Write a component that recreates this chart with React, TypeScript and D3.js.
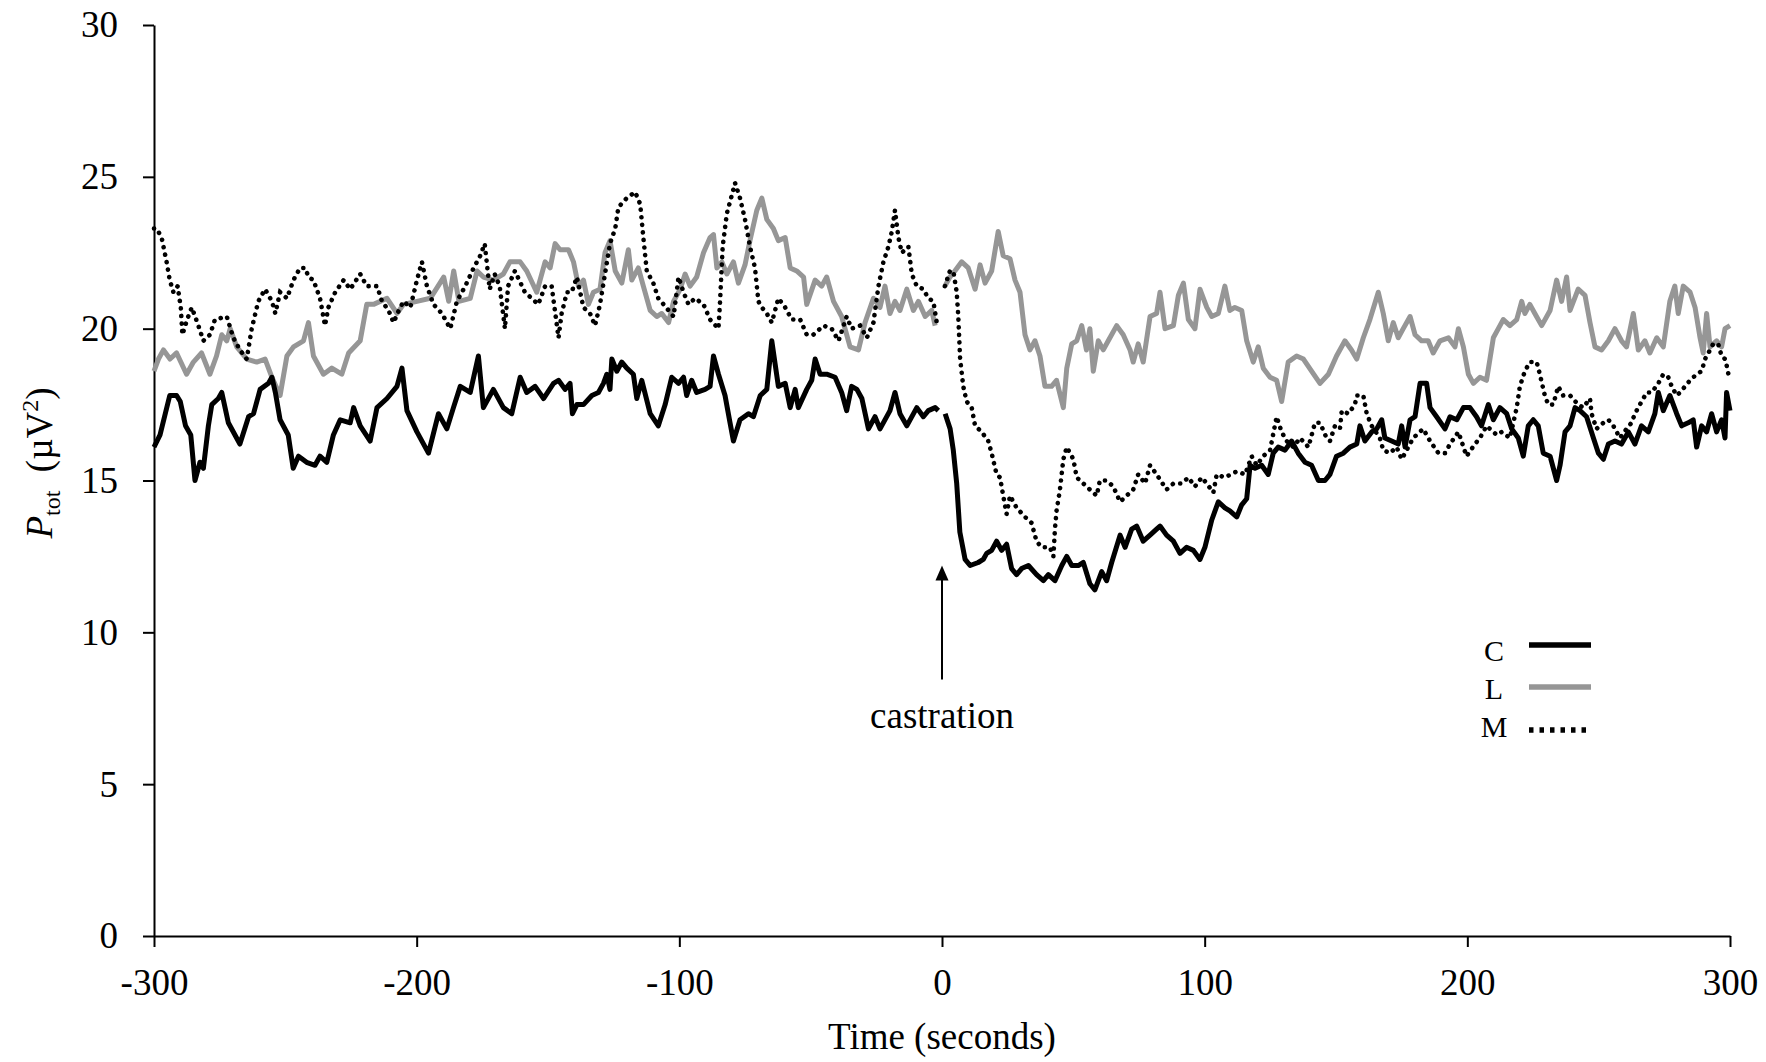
import React, { useEffect, useRef } from "react";
import * as d3 from "d3";

const W = 1766;
const H = 1062;

const xTicks = [-300, -200, -100, 0, 100, 200, 300];
const yTicks = [0, 5, 10, 15, 20, 25, 30];
const legendLabels = ["C", "L", "M"];

// [time (s), Ptot (µV²)], null = break at castration
const seriesC: [number, number | null][] = [
  [-300, 16.1], [-297.7, 16.5], [-294, 17.8], [-291.4, 17.8], [-290, 17.6], [-288, 16.8], [-286, 16.5],
  [-284.4, 15.0], [-282.5, 15.6], [-281.2, 15.4], [-279.3, 16.8], [-278, 17.5], [-275.5, 17.7], [-274.2, 17.9],
  [-271.7, 16.9], [-267.3, 16.2], [-264, 17.1], [-262.1, 17.2], [-259.6, 18.0], [-256.4, 18.2], [-255.1, 18.4],
  [-253.8, 17.9], [-252, 17.0], [-248.9, 16.5], [-247, 15.4], [-245, 15.8], [-241.9, 15.6], [-238.7, 15.5],
  [-236.8, 15.8], [-234.2, 15.6], [-231.7, 16.5], [-229.1, 17.0], [-225.3, 16.9], [-224, 17.4], [-221.5, 16.8],
  [-217.7, 16.3], [-215.1, 17.4], [-211.3, 17.7], [-207.5, 18.1], [-205.6, 18.7], [-203.7, 17.3], [-199.9, 16.6],
  [-195.5, 15.9], [-191.7, 17.2], [-188.5, 16.7], [-186, 17.4], [-183.4, 18.1], [-179.6, 17.9], [-176.5, 19.1],
  [-174.6, 17.4], [-170.8, 18.0], [-167, 17.4], [-163.8, 17.2], [-160.6, 18.4], [-158.1, 17.9], [-154.9, 18.1],
  [-151.7, 17.7], [-147.9, 18.2], [-146, 18.3], [-143.5, 18.0], [-141.6, 18.2], [-140.7, 17.2], [-139, 17.5],
  [-136.5, 17.5], [-133.3, 17.8], [-130.8, 17.9], [-128.9, 18.2], [-127.6, 18.5], [-126.4, 18.0], [-125.7, 19.0],
  [-123.8, 18.6], [-121.9, 18.9], [-120, 18.7], [-117.5, 18.5], [-116.2, 17.7], [-114.3, 18.3], [-111.1, 17.2],
  [-108, 16.8], [-105.4, 17.5], [-102.9, 18.4], [-100.3, 18.2], [-98.4, 18.4], [-97.2, 17.8], [-95.3, 18.3],
  [-93.4, 17.9], [-90.2, 18.0], [-88.3, 18.1], [-87, 19.1], [-85.1, 18.5], [-82.6, 17.8], [-80.7, 16.9],
  [-79.4, 16.3], [-76.9, 17.0], [-73.7, 17.2], [-71.8, 17.1], [-69.2, 17.8], [-66.7, 18.0], [-64.8, 19.6],
  [-62.3, 18.1], [-59.7, 18.2], [-57.8, 17.4], [-55.9, 18.0], [-54.7, 17.4], [-51.5, 18.0], [-49.6, 18.3],
  [-48.3, 19.0], [-46.4, 18.5], [-43.9, 18.5], [-40.7, 18.4], [-38.2, 17.9], [-36.3, 17.3], [-34.4, 18.1],
  [-32.4, 18.0], [-30.5, 17.7], [-28, 16.7], [-25.5, 17.1], [-23.6, 16.7], [-19.8, 17.3], [-17.9, 17.9],
  [-16, 17.2], [-13.4, 16.8], [-9.6, 17.4], [-7.1, 17.1], [-5.2, 17.3], [-2.6, 17.4], [-1.4, 17.3],
  [0, null],
  [1.2, 17.2], [3.1, 16.7], [4.3, 16.0], [5.6, 14.9], [6.8, 13.3], [8.8, 12.4], [10.7, 12.2], [13.8, 12.3],
  [15.7, 12.4], [17, 12.6], [18.9, 12.7], [20.8, 13.0], [22.7, 12.7], [24.6, 12.9], [26.5, 12.1], [28.4, 11.9],
  [30.3, 12.1], [32.9, 12.2], [36, 11.9], [38.6, 11.7], [40.5, 11.9], [43, 11.7], [45.6, 12.2], [47.5, 12.5],
  [49.4, 12.2], [51.9, 12.2], [53.8, 12.3], [56.3, 11.6], [58.2, 11.4], [60.8, 12.0], [62.7, 11.7], [64.6, 12.3],
  [67.8, 13.2], [69.7, 12.8], [72.2, 13.4], [74.1, 13.5], [76.6, 13.0], [79.2, 13.2], [81.7, 13.4], [83, 13.5],
  [85.5, 13.2], [88.1, 13.0], [90.6, 12.6], [93.1, 12.8], [95.7, 12.7], [98.2, 12.4], [100.1, 12.8], [102.7, 13.7],
  [105.2, 14.3], [107.7, 14.1], [109.6, 14.0], [112.2, 13.8], [114.1, 14.2], [116, 14.4], [117.3, 15.5],
  [119.2, 15.4], [121.7, 15.5], [124.2, 15.2], [126.1, 15.9], [128, 16.1], [130.6, 16.0], [133.1, 16.3],
  [135.6, 15.9], [138.2, 15.6], [140.7, 15.5], [143.3, 15.0], [145.8, 15.0], [147.7, 15.2], [150.2, 15.8],
  [152.8, 15.9], [155.3, 16.1], [157.9, 16.2], [159.1, 16.8], [161, 16.3], [163.6, 16.6], [165.5, 16.7],
  [167.4, 17.0], [168.6, 16.4], [171.2, 16.3], [173.7, 16.2], [175, 16.8], [176.3, 16.1], [178.2, 17.0],
  [180.1, 17.1], [182, 18.2], [184.5, 18.2], [185.8, 17.4], [188.3, 17.1], [191.5, 16.7], [193.4, 17.1],
  [196, 17.0], [198.5, 17.4], [201, 17.4], [203.5, 17.1], [205.4, 16.8], [208, 17.5], [209.9, 17.0],
  [212.4, 17.4], [215, 17.2], [216.9, 16.7], [219.4, 16.4], [221.3, 15.8], [223.2, 16.8], [225.1, 17.0],
  [227, 16.8], [228.9, 15.9], [231.5, 15.8], [234, 15.0], [235.3, 15.5], [237.2, 16.6], [239.1, 16.8],
  [241, 17.4], [242.9, 17.3], [245.4, 17.1], [248, 16.4], [249.9, 15.9], [251.8, 15.7], [253.7, 16.2],
  [256.2, 16.3], [258.7, 16.2], [261.3, 16.6], [263.8, 16.2], [266.3, 16.8], [268.9, 16.6], [271.4, 17.2],
  [272.7, 17.9], [274.6, 17.3], [277.1, 17.8], [279.7, 17.2], [281.6, 16.8], [284.1, 16.9], [286, 17.0],
  [287.3, 16.1], [289.2, 16.8], [291.1, 16.6], [293, 17.2], [294.9, 16.6], [296.8, 17.0], [298.1, 16.4],
  [298.7, 17.9], [300, 17.3],
];

const seriesL: [number, number | null][] = [
  [-300, 18.6], [-298.3, 19.0], [-296.4, 19.3], [-293.9, 19.0], [-291.4, 19.2], [-287.6, 18.5], [-285, 18.9],
  [-281.9, 19.2], [-278.7, 18.5], [-276.2, 19.1], [-274.2, 19.8], [-272.3, 19.6], [-271, 20.0], [-268.5, 19.4],
  [-264.7, 19.0], [-260.9, 18.9], [-257.7, 19.0], [-255.1, 18.4], [-252, 17.8], [-249.4, 19.1], [-246.9, 19.4],
  [-243.1, 19.6], [-241.2, 20.2], [-239.3, 19.1], [-235.5, 18.5], [-232.3, 18.7], [-228.5, 18.5], [-225.9, 19.2],
  [-221.5, 19.6], [-219, 20.8], [-216.4, 20.8], [-211.3, 21.0], [-207.5, 20.5], [-205, 20.8], [-199.9, 20.9],
  [-194.8, 21.0], [-189.7, 21.7], [-187.8, 20.9], [-185.9, 21.9], [-183.9, 20.9], [-179.6, 21.0], [-177, 21.9],
  [-174.6, 21.7], [-170.8, 21.6], [-167, 21.8], [-164.5, 22.2], [-160.6, 22.2], [-158.1, 21.9], [-154.3, 21.2],
  [-151.1, 22.2], [-149.2, 22.0], [-147.3, 22.8], [-145.4, 22.6], [-142.2, 22.6], [-140.3, 22.2], [-138.4, 21.4],
  [-136.5, 21.6], [-134.6, 20.8], [-132.7, 21.2], [-130.2, 21.3], [-128.3, 22.5], [-126.4, 22.9], [-124.4, 21.9],
  [-121.9, 21.5], [-119.4, 22.6], [-118.1, 21.6], [-115.6, 22.0], [-113.7, 21.4], [-111.1, 20.6], [-108.6, 20.4],
  [-106.7, 20.5], [-104.1, 20.2], [-102.2, 20.9], [-99.7, 21.3], [-97.8, 21.8], [-95.9, 21.4], [-93.4, 21.7],
  [-90.8, 22.5], [-88.3, 23.0], [-87, 23.1], [-85.7, 22.0], [-83.8, 22.2], [-81.9, 21.8], [-79.4, 22.2],
  [-77.5, 21.5], [-75, 22.1], [-73.1, 22.9], [-70.5, 23.9], [-68.6, 24.3], [-66.7, 23.6], [-64.2, 23.3],
  [-62.3, 22.9], [-59.7, 23.0], [-57.8, 22.0], [-55.3, 21.9], [-52.7, 21.7], [-51.5, 20.8], [-48.3, 21.6],
  [-45.8, 21.4], [-43.9, 21.7], [-41.3, 20.9], [-38.2, 20.4], [-35, 19.4], [-31.8, 19.3], [-29.3, 20.2],
  [-26.1, 21.0], [-23.6, 20.7], [-21.7, 21.4], [-19.8, 20.5], [-17.9, 20.9], [-16, 20.6], [-13.4, 21.3],
  [-10.9, 20.6], [-9, 20.9], [-6.4, 20.4], [-3.9, 20.6], [-2.6, 20.1],
  [0, null],
  [1.1, 21.4], [3, 21.7], [4.9, 21.9], [7.5, 22.2], [10, 22.0], [12.6, 21.3], [14.5, 22.1], [16.4, 21.5],
  [18.9, 21.9], [21.4, 23.2], [23.3, 22.4], [25.9, 22.3], [27.8, 21.6], [29.7, 21.2], [31.6, 19.8], [33.5, 19.3],
  [35.4, 19.6], [37.3, 19.1], [39.2, 18.1], [41.7, 18.1], [43.6, 18.3], [46.2, 17.4], [47.5, 18.7], [49.4, 19.5],
  [51.3, 19.6], [53.2, 20.1], [55, 19.3], [56.3, 20.0], [57.6, 18.6], [59.5, 19.6], [61.4, 19.3], [63.3, 19.6],
  [66.5, 20.1], [69, 19.8], [71.6, 19.3], [72.8, 18.9], [74.7, 19.5], [76.6, 18.9], [79.2, 20.4], [81.7, 20.5],
  [83, 21.2], [84.9, 20.0], [88.1, 20.1], [90, 21.1], [91.9, 21.5], [93.8, 20.3], [96.3, 20.0], [98.2, 21.3],
  [100.8, 20.7], [102.7, 20.4], [105.2, 20.5], [107.7, 21.4], [109.6, 20.6], [111.5, 20.7], [114.1, 20.6],
  [116, 19.6], [118.5, 18.9], [120.4, 19.4], [122.3, 18.7], [124.9, 18.4], [127.4, 18.3], [129.3, 17.6],
  [131.8, 18.9], [135, 19.1], [137.6, 19.0], [140.7, 18.6], [143.9, 18.2], [147.1, 18.5], [150.2, 19.1],
  [153.4, 19.6], [155.9, 19.3], [157.9, 19.0], [160.4, 19.7], [162.9, 20.3], [166.1, 21.2], [168, 20.5],
  [169.9, 19.6], [171.8, 20.2], [173.7, 19.7], [175.6, 20.0], [178.2, 20.4], [180.1, 19.8], [182.6, 19.6],
  [185.1, 19.6], [187, 19.2], [189.6, 19.6], [192.8, 19.7], [195.3, 19.4], [196.6, 20.0], [198.5, 19.4],
  [200.4, 18.5], [202.3, 18.2], [204.8, 18.4], [207.3, 18.3], [209.9, 19.7], [211.8, 20.0], [213.7, 20.3],
  [216.2, 20.1], [218.8, 20.3], [220.7, 20.9], [221.9, 20.5], [223.8, 20.8], [225.7, 20.5], [228.3, 20.1],
  [231.5, 20.6], [234, 21.6], [235.9, 20.9], [237.8, 21.7], [239.1, 20.6], [242.2, 21.3], [244.8, 21.1],
  [246.7, 20.2], [248.6, 19.4], [251.1, 19.3], [253.7, 19.6], [256.2, 20.0], [258.7, 19.6], [260.6, 19.4],
  [263.2, 20.5], [265.1, 19.3], [267.6, 19.6], [269.5, 19.2], [272.1, 19.7], [274.6, 19.4], [277.1, 20.9],
  [279, 21.4], [280.3, 20.5], [282.2, 21.4], [284.8, 21.2], [286.7, 20.7], [288.6, 19.7], [289.8, 19.2],
  [291.1, 20.5], [292.4, 19.4], [294.9, 19.6], [296.8, 19.4], [298.1, 20.0], [300, 20.1],
];

const seriesM: [number, number | null][] = [
  [-300, 23.3], [-299, 23.3], [-297.1, 23.0], [-295.2, 22.2], [-294, 21.6], [-292.6, 21.2], [-291, 21.4],
  [-289.8, 20.7], [-289.2, 19.8], [-287.4, 20.3], [-285.6, 20.7], [-283.1, 20.1], [-281.2, 19.6], [-278.7, 19.8],
  [-276.8, 20.3], [-272.3, 20.4], [-269.8, 19.7], [-267.3, 19.3], [-264.7, 19.0], [-262.8, 20.0], [-260.3, 20.9],
  [-257.7, 21.3], [-255.1, 20.9], [-253.8, 20.5], [-252, 21.2], [-249.4, 21.0], [-246.9, 21.6], [-244.4, 22.0],
  [-242.4, 22.0], [-241.2, 21.7], [-239.3, 21.6], [-236.8, 21.0], [-234.9, 20.1], [-233.6, 20.7], [-231, 21.2],
  [-227.8, 21.6], [-225.3, 21.3], [-221.5, 21.8], [-219, 21.4], [-215.1, 21.4], [-213.2, 20.9], [-210.7, 20.6],
  [-208.8, 20.2], [-206.8, 20.6], [-205, 20.9], [-202.4, 20.7], [-199.9, 21.6], [-198, 22.2], [-196.1, 21.4],
  [-193.6, 20.8], [-190.4, 20.5], [-187.2, 20.0], [-184.7, 20.9], [-181.5, 21.4], [-178.3, 22.0], [-175.8, 22.4],
  [-174.1, 22.8], [-172.2, 21.3], [-170.3, 21.8], [-168.4, 21.4], [-166.4, 20.0], [-165.2, 21.4], [-162.6, 21.9],
  [-158.8, 21.2], [-153.7, 20.8], [-151.1, 21.4], [-148.6, 21.4], [-146, 19.7], [-144.8, 20.5], [-142.8, 21.2],
  [-141, 21.2], [-139, 21.7], [-136.5, 20.7], [-134, 20.5], [-132.1, 20.1], [-130.2, 20.8], [-128.3, 21.8],
  [-126.4, 22.8], [-124.4, 23.3], [-123.2, 24.0], [-120, 24.3], [-116.8, 24.5], [-114.9, 24.1], [-113.7, 23.0],
  [-112.4, 21.9], [-109.9, 21.5], [-108, 21.0], [-106, 20.8], [-104.1, 20.6], [-102.2, 20.4], [-100.3, 21.7],
  [-98.4, 21.2], [-96.5, 20.8], [-94, 21.0], [-90.8, 20.8], [-88.3, 20.3], [-85.1, 20.0], [-84.5, 20.9],
  [-83.5, 22.7], [-81.9, 23.8], [-80, 24.4], [-78.8, 24.8], [-76.9, 24.3], [-75, 23.6], [-73.1, 22.7],
  [-71.2, 22.0], [-69.9, 20.9], [-68.6, 20.7], [-66.7, 20.5], [-64.8, 20.2], [-62.3, 21.0], [-59.7, 20.7],
  [-57.2, 20.3], [-54, 20.3], [-51.5, 19.8], [-49, 19.8], [-45.1, 20.1], [-42, 20.0], [-39.4, 19.6],
  [-36.3, 20.4], [-34.4, 20.0], [-31.2, 20.1], [-28.6, 19.7], [-26.1, 20.2], [-24.2, 21.4], [-22.3, 22.2],
  [-20.4, 22.7], [-19.1, 23.2], [-17.9, 23.9], [-16.6, 23.0], [-15.3, 22.5], [-12.8, 22.7], [-11.5, 21.8],
  [-9.6, 21.4], [-7.1, 21.3], [-5.2, 21.0], [-3.3, 20.9], [-2, 20.2],
  [0, null],
  [1.1, 21.4], [3, 21.9], [4.3, 21.9], [5.6, 21.2], [6.2, 20.4], [6.9, 19.0], [8.1, 18.1], [9.4, 17.6],
  [11.3, 17.4], [12.6, 16.8], [15.1, 16.6], [17.6, 16.3], [18.9, 15.9], [20.8, 15.2], [22.1, 15.1], [23.3, 14.5],
  [24.6, 13.9], [25.9, 14.5], [28.4, 14.1], [31.6, 13.8], [34.1, 13.6], [36, 13.0], [37.9, 12.8], [41.1, 12.8],
  [42.4, 12.5], [43, 13.4], [43.6, 14.0], [44.9, 14.7], [46.2, 15.7], [47.5, 16.1], [50, 15.7], [51.3, 15.1],
  [53.8, 14.9], [56.3, 14.7], [58.9, 14.5], [60.1, 15.0], [62.7, 15.0], [65.2, 14.8], [67.8, 14.3], [70.3, 14.5],
  [72.8, 14.7], [74.7, 15.2], [77.3, 14.9], [79.2, 15.5], [81.7, 15.2], [85.5, 14.7], [88.1, 14.9], [91.2, 14.9],
  [93.8, 15.1], [96.3, 14.8], [98.9, 15.1], [100.8, 14.9], [103.3, 14.6], [104.6, 15.2], [107.7, 15.1],
  [112.2, 15.3], [115.4, 15.2], [117.9, 15.8], [119.8, 15.5], [122.3, 15.8], [124.9, 16.0], [127.4, 17.1],
  [129.3, 16.6], [131.2, 16.3], [133.8, 16.1], [136.3, 16.4], [139.5, 16.1], [142, 16.9], [143.9, 16.9],
  [146.4, 16.4], [147.7, 16.3], [149.6, 16.8], [151.5, 16.7], [152.2, 17.3], [154.7, 17.2], [157.2, 17.5],
  [157.9, 17.8], [160.4, 17.8], [161.7, 17.2], [163.6, 16.8], [166.7, 16.4], [168, 16.0], [170.5, 15.9],
  [173.1, 16.1], [175, 15.7], [176.9, 16.0], [179.4, 16.4], [183.2, 16.7], [185.8, 16.3], [189, 15.9],
  [191.5, 15.9], [193.4, 16.2], [196.6, 16.6], [199.7, 15.8], [202.9, 16.2], [204.8, 16.4], [207.3, 16.8],
  [211.2, 16.5], [213.1, 16.6], [216.2, 16.4], [218.8, 17.4], [220, 18.1], [221.9, 18.6], [223.8, 18.9],
  [226.4, 18.9], [227.6, 18.5], [229.5, 17.8], [230.8, 17.5], [232.7, 17.5], [234.6, 18.1], [236.5, 17.8],
  [239.1, 17.8], [242.2, 17.5], [244.1, 17.4], [246.7, 17.7], [247.3, 17.2], [249.2, 16.7], [251.8, 16.9],
  [253.7, 17.0], [255.6, 16.8], [258.1, 16.4], [260.6, 16.7], [262.5, 16.9], [263.8, 17.2], [265.7, 17.5],
  [268.3, 17.9], [270.2, 17.9], [272.7, 18.2], [274.6, 18.5], [276.5, 18.4], [277.8, 18.1], [279.7, 17.8],
  [281, 17.9], [282.9, 18.1], [284.8, 18.3], [287.3, 18.5], [289.2, 18.6], [290.5, 19.0], [292.4, 19.3],
  [293.6, 19.5], [295.5, 19.5], [296.8, 19.1], [298.1, 19.0], [298.7, 18.8], [299.4, 18.5],
];

// arrow marking the castration moment, in data units
const arrowTime = 0;
const arrowFrom = 8.45;
const arrowTo = 12.2;

const FONT = "'Liberation Serif', 'Times New Roman', serif";
const GREY = "#969696";

export default function App() {
  const ref = useRef<SVGSVGElement>(null);

  useEffect(() => {
    const svg = d3.select(ref.current);
    svg.selectAll("*").remove();

    const x = d3.scaleLinear().domain([-300, 300]).range([154, 1730]);
    const y = d3.scaleLinear().domain([0, 30]).range([936, 25]);

    // axes
    const gy = svg.append("g").attr("transform", `translate(${x(-300)},0)`)
      .call(d3.axisLeft(y).tickValues(yTicks).tickSize(11).tickSizeOuter(0).tickPadding(25));
    const gx = svg.append("g").attr("transform", `translate(0,${y(0)})`)
      .call(d3.axisBottom(x).tickValues(xTicks).tickSize(11).tickSizeOuter(0).tickPadding(22)
        .tickFormat(d3.format("d")));
    [gx, gy].forEach(g => {
      g.attr("color", "#000");
      g.selectAll("path, line").attr("stroke-width", 2);
      g.selectAll("text").attr("font-size", 37).attr("font-family", FONT).attr("fill", "#000");
    });
    gx.selectAll("text").text((d: any) => (d < 0 ? "-" + Math.abs(d) : String(d)));

    const line = d3.line<[number, number | null]>()
      .defined(d => d[1] !== null)
      .x(d => x(d[0]))
      .y(d => y(d[1] as number));

    svg.append("path").attr("d", line(seriesL)).attr("fill", "none")
      .attr("stroke", GREY).attr("stroke-width", 5).attr("stroke-linejoin", "round");
    svg.append("path").attr("d", line(seriesC)).attr("fill", "none")
      .attr("stroke", "#000").attr("stroke-width", 5).attr("stroke-linejoin", "round");
    svg.append("path").attr("d", line(seriesM)).attr("fill", "none")
      .attr("stroke", "#000").attr("stroke-width", 4.6).attr("stroke-linecap", "round")
      .attr("stroke-dasharray", "0.1 7.5");

    // arrow + label
    const ax = x(arrowTime);
    svg.append("line").attr("x1", ax).attr("x2", ax)
      .attr("y1", y(arrowFrom)).attr("y2", y(arrowTo) + 12)
      .attr("stroke", "#000").attr("stroke-width", 2);
    svg.append("path")
      .attr("d", `M${ax},${y(arrowTo)} L${ax - 6.5},${y(arrowTo) + 15} L${ax + 6.5},${y(arrowTo) + 15} Z`)
      .attr("fill", "#000");
    svg.append("text").attr("x", ax).attr("y", 728).attr("text-anchor", "middle")
      .attr("font-family", FONT).attr("font-size", 37).text("castration");

    // axis titles
    svg.append("text").attr("x", x(0)).attr("y", 1049).attr("text-anchor", "middle")
      .attr("font-family", FONT).attr("font-size", 37).text("Time (seconds)");

    const yl = svg.append("text").attr("transform", "translate(52,463) rotate(-90)")
      .attr("text-anchor", "middle").attr("font-family", FONT).attr("font-size", 37);
    yl.append("tspan").attr("font-style", "italic").text("P");
    yl.append("tspan").attr("font-size", 24).attr("dy", 8).text("tot");
    yl.append("tspan").attr("dy", -8).text("\u00a0\u00a0(\u00b5V");
    yl.append("tspan").attr("font-size", 24).attr("dy", -14).text("2");
    yl.append("tspan").attr("dy", 14).text(")");

    // legend
    const legendStyles = [
      { stroke: "#000", dash: null, lineY: 645, textY: 661 },
      { stroke: GREY, dash: null, lineY: 687, textY: 699 },
      { stroke: "#000", dash: "4.5 6", lineY: 730, textY: 737 },
    ];
    legendLabels.forEach((lab, i) => {
      const s = legendStyles[i];
      svg.append("text").attr("x", 1494).attr("y", s.textY).attr("text-anchor", "middle")
        .attr("font-family", FONT).attr("font-size", 30).text(lab);
      const l = svg.append("line").attr("x1", 1529).attr("x2", 1591)
        .attr("y1", s.lineY).attr("y2", s.lineY)
        .attr("stroke", s.stroke).attr("stroke-width", 5.5);
      if (s.dash) l.attr("stroke-dasharray", s.dash);
    });
  }, []);

  return (
    <svg ref={ref} width={W} height={H}
      style={{ position: "absolute", left: 0, top: 0, background: "#fff" }} />
  );
}
